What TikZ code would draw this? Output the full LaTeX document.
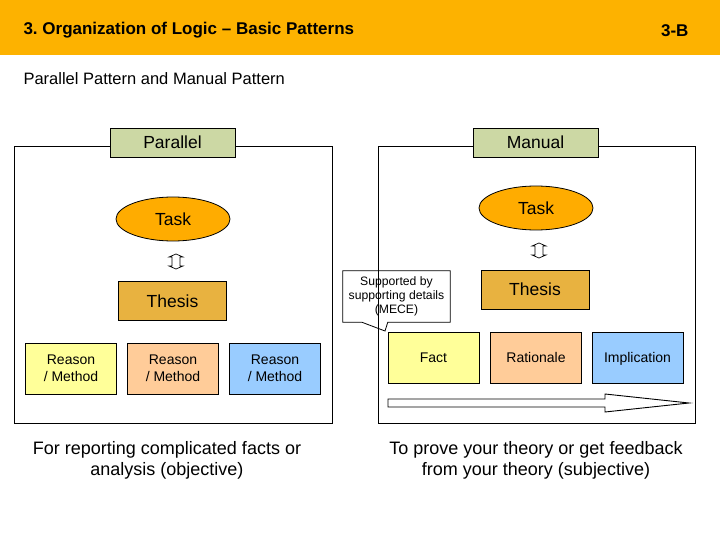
\documentclass[tikz,border=0pt]{standalone}
\usepackage{fontspec}
\setmainfont{Liberation Sans}
\usetikzlibrary{shapes.geometric,calc}
\frenchspacing

\definecolor{hdrorange}{RGB}{253,178,0}
\definecolor{taskorange}{RGB}{255,172,0}
\definecolor{thesisgold}{RGB}{232,178,64}
\definecolor{patgreen}{RGB}{204,216,164}
\definecolor{reasonyellow}{RGB}{255,255,153}
\definecolor{reasonpeach}{RGB}{255,204,153}
\definecolor{reasonblue}{RGB}{153,204,255}

\tikzset{
	frame/.style={draw, line width=0.9pt},
	oneline/.style={text height=#1, text depth=0pt},
	patbox/.style={draw, line width=0.9pt, fill=patgreen, minimum width=125pt, minimum height=29pt, inner sep=0pt, oneline=12.5pt, font=\fontsize{17.5}{20}\selectfont},
	taskell/.style={ellipse, draw, line width=0.8pt, fill=taskorange, minimum width=114pt, minimum height=44pt, inner sep=0pt, oneline=12.5pt, font=\fontsize{17.5}{20}\selectfont},
	thesisbox/.style={draw, line width=0.9pt, fill=thesisgold, minimum width=108pt, minimum height=39pt, inner sep=0pt, oneline=12.5pt, font=\fontsize{17.5}{20}\selectfont},
	itembox/.style={draw, line width=0.9pt, minimum width=91pt, minimum height=51pt, inner sep=0pt, align=center, font=\fontsize{14}{17}\selectfont},
	updown/.style={draw, fill=white, line width=0.7pt},
	caption/.style={align=center, font=\fontsize{18}{21}\selectfont}
}

\begin{document}
\begin{tikzpicture}[x=1pt,y=-1pt]
	\useasboundingbox (0,0) rectangle (720,540);
	% header band
	\fill [hdrorange] (0,0) rectangle (720,55);
	\node (title) [anchor=west, font=\bfseries\fontsize{17}{20}\selectfont] at (20,30) {3. Organization of Logic -- Basic Patterns};
	\node (pageno) [anchor=east, font=\bfseries\fontsize{17}{20}\selectfont] at (692,31) {3-B};
	\node (subtitle) [anchor=west, font=\fontsize{16.5}{20}\selectfont] at (20,79) {Parallel Pattern and Manual Pattern};

	% frames
	\draw [frame] (14,146) rectangle (332,423);
	\draw [frame] (378,146) rectangle (695,423);

	% parallel pattern
	\node (par) [patbox] at (172.5,142.5) {Parallel};
	\node (ptask) [taskell] at (173,219) {Task};
	\draw [updown, shift={(176,261.5)}] (0,-7.5) -- (7,-4.5) -- (4,-4.5) -- (4,4.5) -- (7,4.5) -- (0,7.5) -- (-7,4.5) -- (-4,4.5) -- (-4,-4.5) -- (-7,-4.5) -- cycle;
	\node (pthesis) [thesisbox] at (172.5,301) {Thesis};
	\node (preason1) [itembox, fill=reasonyellow] at (71,368.5) {Reason\\/ Method};
	\node (preason2) [itembox, fill=reasonpeach] at (173,368.5) {Reason\\/ Method};
	\node (preason3) [itembox, fill=reasonblue] at (275,368.5) {Reason\\/ Method};

	% manual pattern
	\node (man) [patbox] at (535.5,142.5) {Manual};
	\node (mtask) [taskell] at (536,208) {Task};
	\draw [updown, shift={(539,250.5)}] (0,-7.5) -- (7,-4.5) -- (4,-4.5) -- (4,4.5) -- (7,4.5) -- (0,7.5) -- (-7,4.5) -- (-4,4.5) -- (-4,-4.5) -- (-7,-4.5) -- cycle;
	\node (mthesis) [thesisbox] at (535,289.5) {Thesis};
	\node (fact) [itembox, oneline=10pt, fill=reasonyellow] at (433.5,357.5) {Fact};
	\node (rationale) [itembox, oneline=10pt, fill=reasonpeach] at (536,357.5) {Rationale};
	\node (implication) [itembox, oneline=10pt, fill=reasonblue] at (637.5,357.5) {Implication};

	% callout
	\node (mece) [minimum width=107pt, minimum height=51pt, inner sep=0pt, align=center, font=\fontsize{12.2}{14}\selectfont] at (396.5,296.5) {Supported by\\supporting details\\(MECE)};
	\coordinate (tip) at (385,331);
	\draw [line width=0.8pt] (mece.north west) -- (mece.north east) -- (mece.south east)
		-- ($(mece.south west)+(45,0)$) -- (tip) -- ($(mece.south west)+(19,0)$) -- (mece.south west) -- cycle;

	% order arrow
	\draw [line width=0.9pt, fill=white] (388,399) -- (605,399) -- (605,394) -- (689,403) -- (605,412) -- (605,407) -- (388,407) -- cycle;

	% captions
	\node (pcap) [caption] at (167,460) {For reporting complicated facts or\\analysis (objective)};
	\node (mcap) [caption] at (536,460) {To prove your theory or get feedback\\from your theory (subjective)};
\end{tikzpicture}
\end{document}
